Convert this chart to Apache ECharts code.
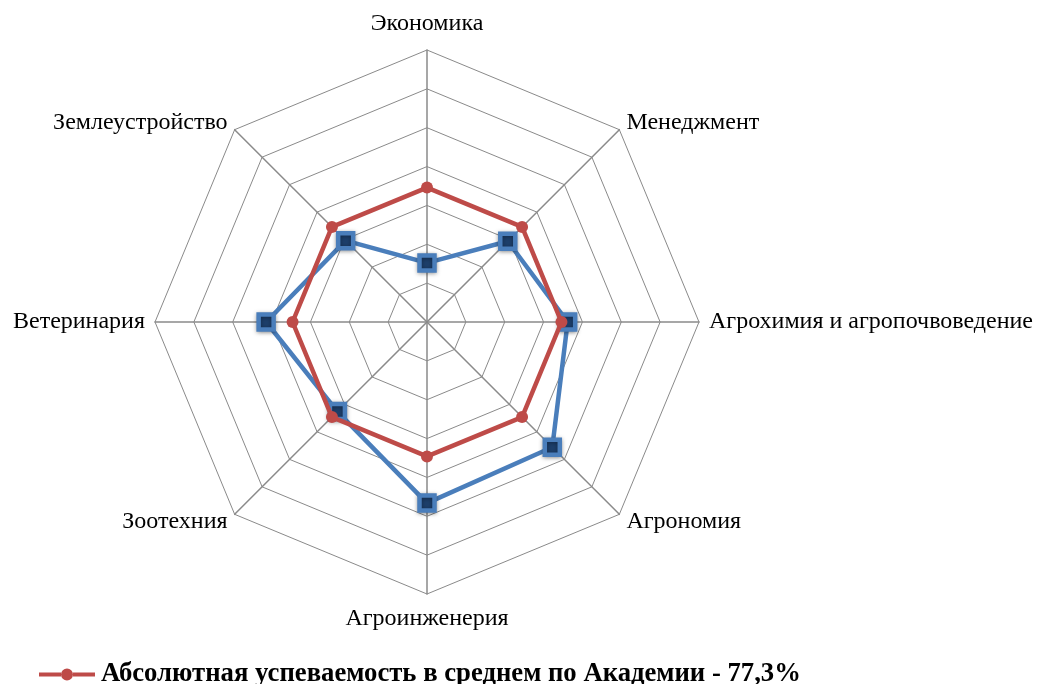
<!DOCTYPE html>
<html>
<head>
<meta charset="utf-8">
<script src="https://cdn.jsdelivr.net/npm/echarts@6/dist/echarts.min.js"></script>
<style>
  html, body { margin: 0; padding: 0; background: #fff; }
  #chart { width: 1037px; height: 684px; }
</style>
</head>
<body>
<div id="chart"></div>
<script>
// направления (порядок против часовой стрелки, как рисует echarts)
const categories = [
  "Экономика",
  "Землеустройство",
  "Ветеринария",
  "Зоотехния",
  "Агроинженерия",
  "Агрономия",
  "Агрохимия и агропочвоведение",
  "Менеджмент"
];
// успеваемость по направлениям, %
const facultyValues = [67.6, 74.8, 80.7, 76.3, 83.3, 82.8, 78.1, 74.7];
// среднее по академии
const academyValues = [77.3, 77.3, 77.3, 77.3, 77.3, 77.3, 77.3, 77.3];
const academyName = "Абсолютная успеваемость в среднем по Академии - 77,3%";

const axisMin = 60;
const axisMax = 95;

const labelFont = { fontFamily: "Liberation Serif", fontSize: 24, color: "#000" };

const chart = echarts.init(document.getElementById("chart"));

let option = {
  backgroundColor: "#ffffff",
  textStyle: { fontFamily: "Liberation Serif" },
  legend: {
    data: [{
      name: academyName,
      // линия с кружком
      icon: "path://M0,4 H22 V8 H0 Z M34,4 H56 V8 H34 Z M22,6 A6,6 0 1,0 34,6 A6,6 0 1,0 22,6 Z"
    }],
    left: 34,
    top: 656,
    itemWidth: 58,
    itemHeight: 12,
    itemGap: 4,
    textStyle: {
      fontFamily: "Liberation Serif",
      fontWeight: "bold",
      fontSize: 26.7,
      color: "#000"
    }
  },
  radar: {
    center: [427, 322],
    radius: 272,
    shape: "polygon",
    splitNumber: 7,
    nameGap: 10,
    indicator: categories.map(function (c) {
      return { name: c, min: axisMin, max: axisMax };
    }),
    axisName: {
      color: "#000",
      fontFamily: "Liberation Serif",
      fontSize: 24,
      verticalAlign: "middle",
      formatter: function (name) {
        if (name === "Экономика") return "{top|" + name + "}";
        if (name === "Агроинженерия") return "{bottom|" + name + "}";
        return "{n|" + name + "}";
      },
      rich: {
        n: labelFont,
        top: Object.assign({ padding: [0, 0, 32, 0] }, labelFont),
        bottom: Object.assign({ padding: [30, 0, 0, 0] }, labelFont)
      }
    },
    splitLine: { lineStyle: { color: "#8a8a8a", width: 1 } },
    splitArea: { show: false },
    axisLine: { lineStyle: { color: "#8a8a8a", width: 1.5 } }
  },
  series: [
    {
      name: "Направления",
      type: "radar",
      z: 2,
      symbol: "rect",
      symbolSize: 15,
      lineStyle: { color: "#4a7ebb", width: 4.5 },
      itemStyle: {
        color: "#1d3f6b",
        borderColor: "#4a7ebb",
        borderWidth: 4.5,
        shadowBlur: 4,
        shadowColor: "rgba(0,0,0,0.35)",
        shadowOffsetY: 1
      },
      data: [{ value: facultyValues, name: "Направления" }]
    },
    {
      name: academyName,
      type: "radar",
      z: 3,
      symbol: "circle",
      symbolSize: 12,
      lineStyle: { color: "#be4b48", width: 4.5 },
      itemStyle: { color: "#be4b48" },
      data: [{ value: academyValues, name: academyName }]
    }
  ],
  animation: false
};

chart.setOption(option, true);
</script>
</body>
</html>
